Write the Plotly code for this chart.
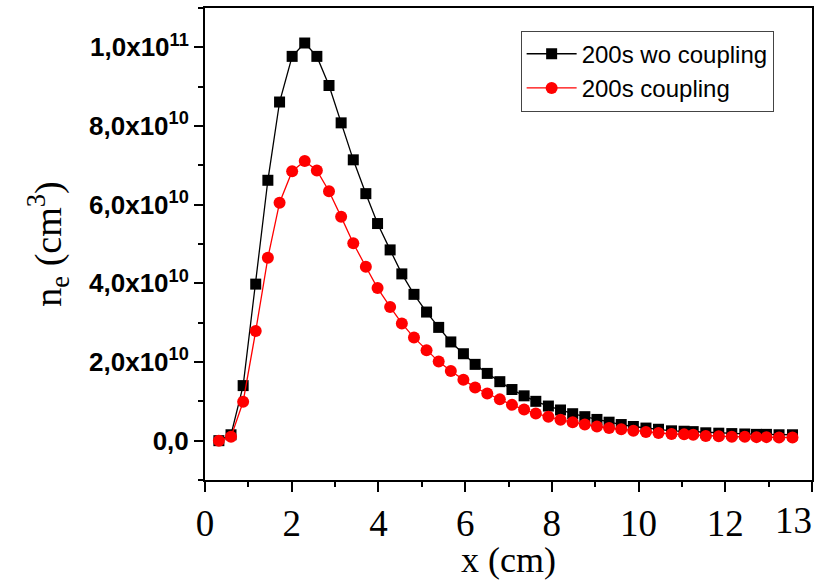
import plotly.graph_objects as go

# position (cm)
x_cm = [0.32, 0.60, 0.88, 1.17, 1.45, 1.72, 2.01, 2.30, 2.58, 2.86,
        3.14, 3.42, 3.71, 3.98, 4.27, 4.54, 4.82, 5.11, 5.39, 5.67,
        5.96, 6.23, 6.51, 6.80, 7.08, 7.36, 7.63, 7.92, 8.20, 8.48,
        8.76, 9.04, 9.32, 9.60, 9.88, 10.17, 10.46, 10.76, 11.05, 11.26,
        11.55, 11.85, 12.15, 12.45, 12.72, 12.95, 13.24, 13.55]

# electron density, units of 1e10 cm^-3
ne_wo_coupling = [0.0, 0.15, 1.40, 3.98, 6.62, 8.61, 9.77, 10.11, 9.77, 9.03,
                  8.08, 7.14, 6.28, 5.52, 4.85, 4.24, 3.72, 3.27, 2.88, 2.51,
                  2.21, 1.94, 1.71, 1.50, 1.30, 1.14, 1.00, 0.88, 0.78, 0.685,
                  0.61, 0.54, 0.47, 0.41, 0.36, 0.32, 0.29, 0.25, 0.24, 0.23,
                  0.20, 0.19, 0.18, 0.17, 0.16, 0.16, 0.15, 0.15]
ne_coupling = [0.0, 0.10, 0.99, 2.79, 4.65, 6.05, 6.85, 7.11, 6.87, 6.34,
               5.69, 5.02, 4.42, 3.88, 3.40, 2.98, 2.62, 2.30, 2.01, 1.77,
               1.55, 1.35, 1.20, 1.05, 0.91, 0.79, 0.69, 0.61, 0.53, 0.47,
               0.41, 0.36, 0.32, 0.29, 0.25, 0.22, 0.195, 0.17, 0.16, 0.15,
               0.12, 0.11, 0.10, 0.10, 0.09, 0.09, 0.08, 0.08]

series_names = ["200s wo coupling", "200s coupling"]

y_tickvals = [0, 2e10, 4e10, 6e10, 8e10, 1e11]
y_ticktext = ["0,0", "2,0x10<sup>10</sup>", "4,0x10<sup>10</sup>",
              "6,0x10<sup>10</sup>", "8,0x10<sup>10</sup>", "1,0x10<sup>11</sup>"]
x_tickvals = [0, 2, 4, 6, 8, 10, 12, 14]
x_ticktext = ["0", "2", "4", "6", "8", "10", "12", ""]
last_x_label = "13"

scale = 1e10
fig = go.Figure()
fig.add_trace(go.Scatter(
    x=x_cm, y=[v * scale for v in ne_wo_coupling], name=series_names[0],
    mode="lines+markers",
    line=dict(color="black", width=1.3),
    marker=dict(symbol="square", size=11, color="black"),
))
fig.add_trace(go.Scatter(
    x=x_cm, y=[v * scale for v in ne_coupling], name=series_names[1],
    mode="lines+markers",
    line=dict(color="red", width=1.3),
    marker=dict(symbol="circle", size=12, color="red"),
))

serif = "Liberation Serif, Times New Roman, serif"
sans = "Liberation Sans, Arial, sans-serif"

fig.update_layout(
    width=820, height=580,
    margin=dict(l=205, r=8, t=6, b=100),
    paper_bgcolor="white", plot_bgcolor="white",
    showlegend=True,
    legend=dict(
        x=0.52, y=0.952, xanchor="left", yanchor="top",
        bordercolor="#444", borderwidth=1, bgcolor="white",
        font=dict(family=sans, size=24, color="black"),
        itemwidth=50, tracegroupgap=0,
    ),
    xaxis=dict(
        range=[0, 14], showgrid=False, zeroline=False,
        showline=True, linecolor="black", linewidth=2, mirror=True,
        ticks="outside", ticklen=10, tickwidth=2, tickcolor="black",
        tickmode="array", tickvals=x_tickvals, ticktext=x_ticktext,
        tickfont=dict(family=serif, size=37, color="black"),
        minor=dict(ticks="outside", ticklen=5, tickwidth=2, tickcolor="black",
                   tick0=0, dtick=1, showgrid=False),
        title=dict(text="x (cm)", font=dict(family=serif, size=36, color="black"),
                   standoff=2),
    ),
    yaxis=dict(
        range=[-1e10, 1.1e11], showgrid=False, zeroline=False,
        showline=True, linecolor="black", linewidth=2, mirror=True,
        ticks="outside", ticklen=9, tickwidth=2, tickcolor="black",
        tickmode="array", tickvals=y_tickvals, ticktext=y_ticktext,
        tickfont=dict(family=sans, size=26, color="black", weight="bold"),
        minor=dict(ticks="outside", ticklen=5, tickwidth=2, tickcolor="black",
                   tick0=0, dtick=1e10, showgrid=False),
        title=dict(text="n<sub>e</sub> (cm<sup>3</sup>)",
                   font=dict(family=serif, size=38, color="black"),
                   standoff=16),
    ),
)

fig.add_annotation(
    x=14, y=0, xref="x", yref="paper", yanchor="top", xanchor="right",
    yshift=-18, xshift=2, text=last_x_label, showarrow=False,
    font=dict(family=serif, size=37, color="black"),
)

fig.write_html("out.html")
